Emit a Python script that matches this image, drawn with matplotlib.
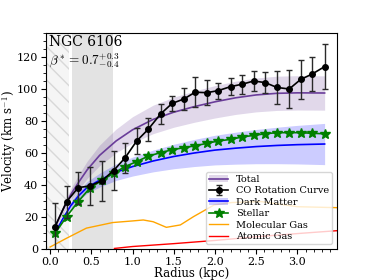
import matplotlib
matplotlib.use('Agg')
import matplotlib.pyplot as plt
import numpy as np

plt.rcParams['font.family'] = 'DejaVu Serif'
plt.rcParams['mathtext.fontset'] = 'cm'
plt.rcParams['font.size'] = 8.5

# CO rotation curve
r_co = [0.06, 0.20, 0.34, 0.48, 0.63, 0.77, 0.91, 1.05, 1.19, 1.34, 1.48, 1.62,
        1.76, 1.90, 2.04, 2.19, 2.33, 2.47, 2.61, 2.75, 2.90, 3.04, 3.18, 3.33]
v_co = [13.9, 29.6, 38.3, 39.4, 42.7, 49.0, 57.0, 67.5, 74.8, 84.4, 91.0, 93.7,
        98.0, 97.7, 99.0, 101.5, 103.0, 105.0, 104.0, 101.0, 100.0, 106.0, 109.4, 114.0]
e_co = [15.0, 10.0, 10.0, 12.0, 12.5, 12.0, 9.5, 8.0, 7.0, 6.0, 4.5, 7.0,
        9.5, 8.0, 5.0, 5.5, 6.0, 6.5, 6.5, 10.5, 12.0, 12.0, 10.7, 14.0]

# stellar component (same radii)
v_star = [9.8, 20.2, 29.6, 37.9, 43.0, 47.3, 51.5, 54.6, 58.0, 60.2, 62.0, 63.3,
          64.5, 66.0, 67.5, 68.5, 70.0, 71.0, 72.0, 72.7, 72.7, 72.7, 72.3, 72.0]

# model curves
r_mod = [0.06, 0.15, 0.25, 0.35, 0.45, 0.60, 0.80, 1.00, 1.25, 1.50, 1.75, 2.00, 2.25, 2.50, 2.75, 3.00, 3.33]
v_tot = [14.0, 24.0, 34.0, 42.0, 49.5, 58.5, 67.5, 74.5, 81.0, 85.5, 89.0, 92.0, 94.5, 96.3, 97.3, 97.6, 97.5]
v_dm = [10.0, 18.5, 27.0, 33.5, 38.5, 43.0, 48.0, 51.5, 55.0, 57.8, 60.0, 61.8, 63.0, 64.0, 64.7, 65.2, 65.6]

# gas components
r_mol = [0.0, 0.2, 0.44, 0.76, 1.0, 1.13, 1.25, 1.41, 1.58, 1.74, 1.99, 2.2, 2.56, 3.0, 3.48]
v_mol = [1.2, 6.7, 13.0, 16.5, 17.5, 18.1, 17.0, 13.5, 15.0, 20.2, 27.5, 29.0, 29.6, 26.4, 25.8]
r_atom = [0.78, 1.0, 1.5, 2.0, 2.5, 3.0, 3.48]
v_atom = [0.3, 1.5, 3.3, 5.3, 7.6, 9.6, 11.4]

r_mod_a = np.array(r_mod)
v_tot_a = np.array(v_tot)
v_dm_a = np.array(v_dm)
tot_err = v_tot_a * 0.11
dm_err = v_dm_a * (0.08 + 0.035 * r_mod_a)

fig = plt.figure(figsize=(3.74, 2.8), dpi=100)
ax = fig.add_axes([0.123, 0.111, 0.778, 0.771])

ax.axvspan(-0.05, 0.227, facecolor='#f5f5f5', edgecolor='#d8d8d8', hatch='\\\\', lw=0, zorder=0)
ax.axvspan(0.267, 0.76, color='#e3e3e3', lw=0, zorder=0)

f_tot = ax.fill_between(r_mod, v_tot_a - tot_err, v_tot_a + tot_err, color='#6a3d9a', alpha=0.2, lw=0)
l_tot, = ax.plot(r_mod, v_tot, color='#6a3d9a', lw=1.2)
f_dm = ax.fill_between(r_mod, v_dm_a - dm_err, v_dm_a + dm_err, color='blue', alpha=0.2, lw=0)
l_dm, = ax.plot(r_mod, v_dm, color='blue', lw=1.2)
l_star, = ax.plot(r_co, v_star, color='green', marker='*', ms=7, lw=1.2)
l_mol, = ax.plot(r_mol, v_mol, color='orange', lw=1.0)
l_atom, = ax.plot(r_atom, v_atom, color='red', lw=1.0)
eb = ax.errorbar(r_co, v_co, yerr=e_co, color='black', ecolor='#2a2a2a', marker='o', ms=4,
                 lw=1.2, elinewidth=1.0, capsize=2)

ax.set_xlim(-0.05, 3.48)
ax.set_ylim(0, 135)
ax.minorticks_on()
ax.tick_params(which='major', labelsize=8, pad=2, length=3.5)
ax.tick_params(which='minor', length=2)

# axis labels placed directly so they stay inside the small canvas
fig.text(0.512, 0.022, 'Radius (kpc)', ha='center', va='center', fontsize=8.5)
fig.text(0.024, 0.497, r'Velocity (km s$^{-1}$)', ha='center', va='center', rotation=90, fontsize=8.5)

ax.text(0.01, 0.99, 'NGC 6106', transform=ax.transAxes, ha='left', va='top', fontsize=10)
ax.text(0.01, 0.915, r'$\beta^* = 0.7^{+0.3}_{-0.4}$', transform=ax.transAxes, ha='left', va='top', fontsize=9.5)

ax.legend([(f_tot, l_tot), eb, (f_dm, l_dm), l_star, l_mol, l_atom],
          ['Total', 'CO Rotation Curve', 'Dark Matter', 'Stellar', 'Molecular Gas', 'Atomic Gas'],
          loc='lower right', fontsize=7, handlelength=2.0, labelspacing=0.25, borderpad=0.3)

plt.savefig('out.png', dpi=100)
